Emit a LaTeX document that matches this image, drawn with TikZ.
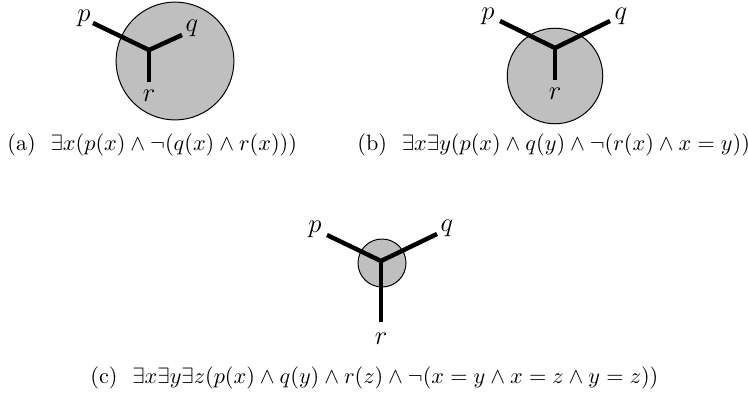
\documentclass[tikz,border=0pt]{standalone}
\usepackage{amsmath,amssymb}
\usepackage{tikz}
\usetikzlibrary{positioning}

\begin{document}
\begin{tikzpicture}[x=0.45pt,y=-0.45pt,
blob/.style={draw,circle,fill=black!25,line width=0.45pt,inner sep=0pt},
arm/.style={line width=2pt},
lab/.style={inner sep=0pt,font=\large},
subcap/.style={anchor=west,inner sep=0pt}]
\useasboundingbox (0,0) rectangle (748,398);
% (a) one element, p outside
\node[blob,minimum size=53pt] (ca) at (175,61) {};
\coordinate (ja) at (149,50);
\coordinate (pa) at (93,23);
\coordinate (qa) at (182,35);
\coordinate (ra) at (149,82);
\draw[arm] (pa) -- (ja) -- (qa);
\draw[arm] (ja) -- (ra);
\node[lab] (lpa) at (84,18) {$p$};
\node[lab] (lqa) at (192,28) {$q$};
\node[lab] (lra) at (149,96) {$r$};
\node[subcap] (capa) at (7,145) {(a)~~$\exists x(p(x)\wedge\neg(q(x)\wedge r(x)))$};
% (b) two elements
\node[blob,minimum size=43pt] (cb) at (555,76) {};
\coordinate (jb) at (555,48);
\coordinate (pb) at (500,21);
\coordinate (qb) at (610,21);
\coordinate (rb) at (555,80);
\draw[arm] (pb) -- (jb) -- (qb);
\draw[arm] (jb) -- (rb);
\node[lab] (lpb) at (488,16) {$p$};
\node[lab] (lqb) at (621,16) {$q$};
\node[lab] (lrb) at (555,94) {$r$};
\node[subcap] (capb) at (357,145) {(b)~~$\exists x\exists y(p(x)\wedge q(y)\wedge\neg(r(x)\wedge x=y))$};
% (c) three elements
\node[blob,minimum size=21.6pt] (cc) at (382,263) {};
\coordinate (jc) at (381,261);
\coordinate (pc) at (327,235);
\coordinate (qc) at (437,234);
\coordinate (rc) at (381,322);
\draw[arm] (pc) -- (jc) -- (qc);
\draw[arm] (jc) -- (rc);
\node[lab] (lpc) at (315,229) {$p$};
\node[lab] (lqc) at (447,228) {$q$};
\node[lab] (lrc) at (381,339) {$r$};
\node[subcap] (capc) at (90,378) {(c)~~$\exists x\exists y\exists z(p(x)\wedge q(y)\wedge r(z)\wedge\neg(x=y\wedge x=z\wedge y=z))$};
\end{tikzpicture}
\end{document}
